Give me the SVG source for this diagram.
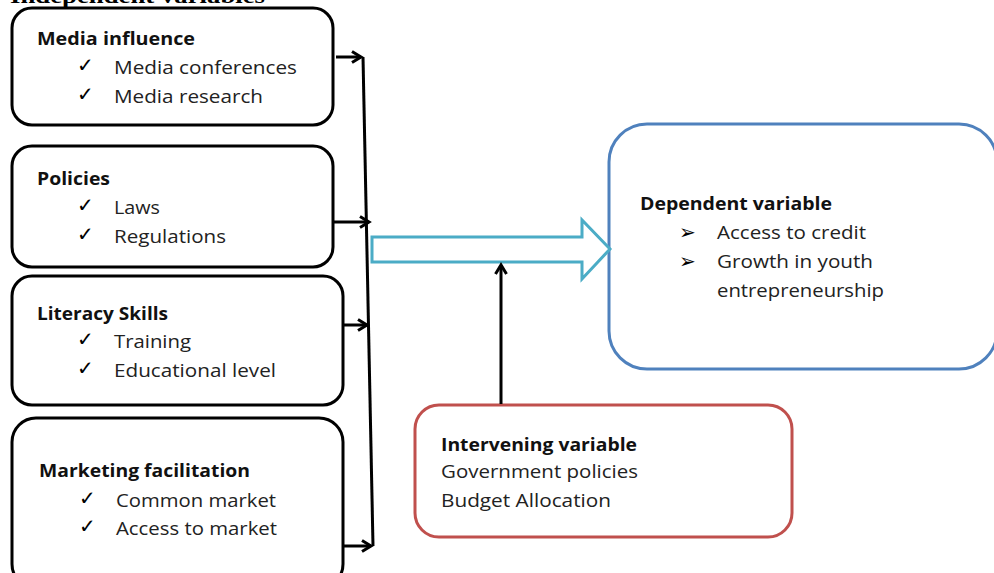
<svg xmlns="http://www.w3.org/2000/svg" width="994" height="573" viewBox="0 0 994 573">
<defs>
<style>
.box{fill:#fff;stroke:#000;stroke-width:3}
.t{font-family:"Open Sans","Liberation Sans",sans-serif;font-size:18px;fill:#222}
.b{font-weight:bold;fill:#111}
.ck{font-family:"DejaVu Sans",sans-serif;font-size:20px;font-weight:bold;fill:#000}
.con{fill:none;stroke:#000;stroke-width:3}
</style>
<marker id="ah" markerWidth="14" markerHeight="14" refX="11" refY="7" orient="auto" markerUnits="userSpaceOnUse">
<path d="M2,1.5 L11,7 L2,12.5" fill="none" stroke="#000" stroke-width="3"/>
</marker>
</defs>
<rect width="994" height="573" fill="#fff"/>
<text x="10" y="3" font-family="Liberation Serif,serif" font-weight="bold" font-size="21" textLength="255" lengthAdjust="spacingAndGlyphs">Independent variables</text>

<g id="media">
<rect class="box" x="12" y="8" width="321" height="117" rx="20"/>
<text class="t b" x="37" y="45" textLength="158" lengthAdjust="spacingAndGlyphs">Media influence</text>
<text class="ck" x="77" y="72">✓</text>
<text class="t" x="114" y="74" textLength="183" lengthAdjust="spacingAndGlyphs">Media conferences</text>
<text class="ck" x="77" y="101">✓</text>
<text class="t" x="114" y="103" textLength="149" lengthAdjust="spacingAndGlyphs">Media research</text>
</g>
<g id="policies">
<rect class="box" x="12" y="146" width="321" height="121" rx="20"/>
<text class="t b" x="37" y="185" textLength="73" lengthAdjust="spacingAndGlyphs">Policies</text>
<text class="ck" x="77" y="212">✓</text>
<text class="t" x="114" y="214" textLength="46" lengthAdjust="spacingAndGlyphs">Laws</text>
<text class="ck" x="77" y="241">✓</text>
<text class="t" x="114" y="243" textLength="112" lengthAdjust="spacingAndGlyphs">Regulations</text>
</g>
<g id="literacy">
<rect class="box" x="12" y="276" width="331" height="129" rx="20"/>
<text class="t b" x="37" y="320" textLength="131" lengthAdjust="spacingAndGlyphs">Literacy Skills</text>
<text class="ck" x="77" y="346">✓</text>
<text class="t" x="114" y="348" textLength="77" lengthAdjust="spacingAndGlyphs">Training</text>
<text class="ck" x="77" y="375">✓</text>
<text class="t" x="114" y="377" textLength="162" lengthAdjust="spacingAndGlyphs">Educational level</text>
</g>
<g id="marketing">
<rect class="box" x="12" y="418" width="331" height="170" rx="24"/>
<text class="t b" x="39" y="477" textLength="211" lengthAdjust="spacingAndGlyphs">Marketing facilitation</text>
<text class="ck" x="79" y="505">✓</text>
<text class="t" x="116" y="507" textLength="160" lengthAdjust="spacingAndGlyphs">Common market</text>
<text class="ck" x="79" y="533">✓</text>
<text class="t" x="116" y="535" textLength="161" lengthAdjust="spacingAndGlyphs">Access to market</text>
</g>
<g id="dependent">
<rect x="609" y="124" width="388" height="245" rx="38" fill="#fff" stroke="#4F81BD" stroke-width="3"/>
<text class="t b" x="640" y="210" textLength="192" lengthAdjust="spacingAndGlyphs">Dependent variable</text>
<text class="ck" x="679" y="239">➢</text>
<text class="t" x="717" y="239" textLength="149" lengthAdjust="spacingAndGlyphs">Access to credit</text>
<text class="ck" x="679" y="268">➢</text>
<text class="t" x="717" y="268" textLength="156" lengthAdjust="spacingAndGlyphs">Growth in youth</text>
<text class="t" x="717" y="297" textLength="167" lengthAdjust="spacingAndGlyphs">entrepreneurship</text>
</g>
<g id="intervening">
<rect x="415" y="405" width="377" height="132" rx="24" fill="#fff" stroke="#C0504D" stroke-width="3"/>
<text class="t b" x="441" y="451" textLength="196" lengthAdjust="spacingAndGlyphs">Intervening variable</text>
<text class="t" x="441" y="478" textLength="197" lengthAdjust="spacingAndGlyphs">Government policies</text>
<text class="t" x="441" y="507" textLength="170" lengthAdjust="spacingAndGlyphs">Budget Allocation</text>
</g>
<g id="connectors">
<line class="con" x1="363" y1="57" x2="373" y2="546"/>
<line class="con" x1="336" y1="57" x2="361" y2="57" marker-end="url(#ah)"/>
<line class="con" x1="333" y1="222" x2="369" y2="222" marker-end="url(#ah)"/>
<line class="con" x1="343" y1="325" x2="367" y2="325" marker-end="url(#ah)"/>
<line class="con" x1="343" y1="546" x2="371" y2="546" marker-end="url(#ah)"/>
<path d="M372,237 L582,237 L582,220 L610,249 L582,279 L582,262 L372,262 Z" fill="#fff" stroke="#4BACC6" stroke-width="3" stroke-linejoin="miter"/>
<line class="con" x1="501" y1="404" x2="501" y2="265" marker-end="url(#ah)"/>
</g>
</svg>
